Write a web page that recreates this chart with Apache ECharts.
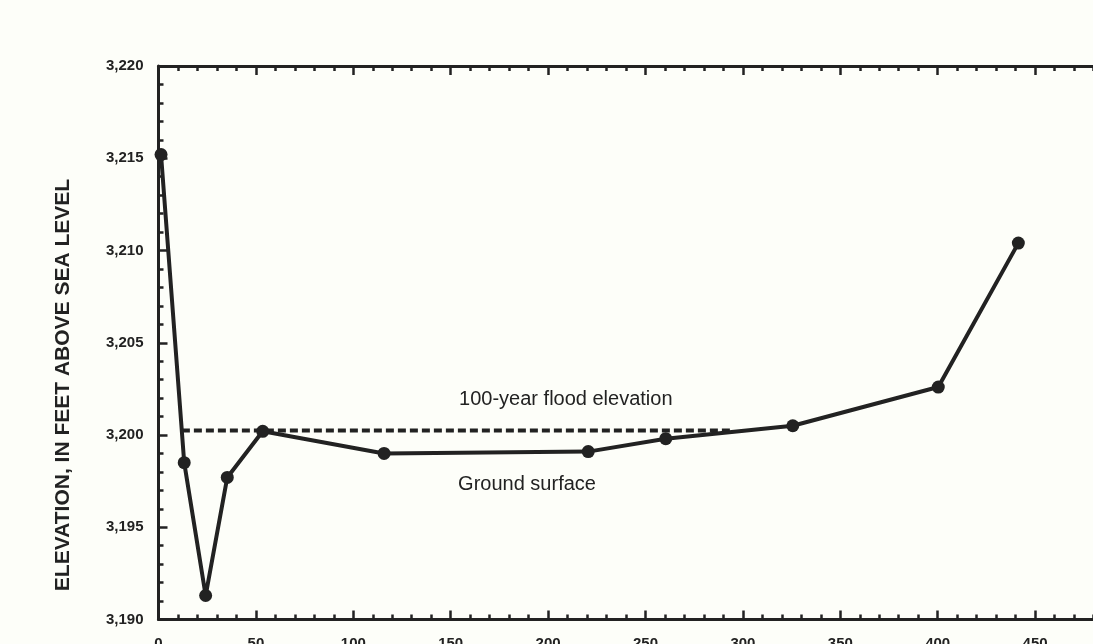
<!DOCTYPE html>
<html>
<head>
<meta charset="utf-8">
<script src="https://cdn.jsdelivr.net/npm/echarts@6/dist/echarts.min.js"></script>
<style>
html,body{margin:0;padding:0;background:#fdfef9;}
#c{width:1093px;height:644px;}
</style>
</head>
<body>
<div id="c"></div>
<script>
// Ground surface profile: distance (ft) and elevation (ft above sea level)
const groundDistance = [1.3, 13.2, 24.2, 35.3, 53.5, 115.8, 220.6, 260.4, 325.6, 400.3, 441.4];
const groundElevation = [3215.2, 3198.5, 3191.3, 3197.7, 3200.2, 3199.0, 3199.1, 3199.8, 3200.5, 3202.6, 3210.4];
// 100-year flood elevation line
const floodDistance = [12, 295];
const floodElevation = [3200.25, 3200.25];
// Axis ranges / ticks
const xRange = [0, 500, 50];
const yRange = [3190, 3220, 5];
// Annotations [text, x, y]
const notes = [
  ['100-year flood elevation', 154.3, 3201.9],
  ['Ground surface', 153.8, 3197.3]
];
const yTitle = 'ELEVATION, IN FEET ABOVE SEA LEVEL';

const FONT = '"Liberation Sans", Arial, Helvetica, sans-serif';
const INK = '#222';

const chart = echarts.init(document.getElementById('c'));
const fmt = v => String(v).replace(/\B(?=(\d{3})+(?!\d))/g, ',');

const axisCommon = {
  type: 'value',
  min: xRange[0], max: xRange[1], interval: xRange[2],
  axisLine: {show: true, onZero: false, lineStyle: {color: INK, width: 3}},
  axisTick: {show: true, inside: true, length: 9, lineStyle: {color: INK, width: 2.5}},
  minorTick: {show: true, splitNumber: 5, length: 5, lineStyle: {color: INK, width: 2.5}},
  splitLine: {show: false}
};

chart.setOption({
  backgroundColor: '#fdfef9',
  animation: false,
  grid: {left: 158.5, width: 974, top: 66, height: 553.5, containLabel: false, outerBoundsMode: 'none'},
  xAxis: [
    Object.assign({}, axisCommon, {
      position: 'bottom',
      axisLabel: {show: true, margin: 17, color: INK, fontFamily: FONT, fontWeight: 'bold', fontSize: 15, formatter: fmt}
    }),
    Object.assign({}, axisCommon, {
      position: 'top',
      axisLabel: {show: false}
    })
  ],
  yAxis: {
    type: 'value',
    min: yRange[0], max: yRange[1], interval: yRange[2],
    axisLine: {show: true, lineStyle: {color: INK, width: 3}},
    axisTick: {show: true, inside: true, length: 9, lineStyle: {color: INK, width: 2.5}},
    minorTick: {show: true, splitNumber: 5, length: 5, lineStyle: {color: INK, width: 2.5}},
    splitLine: {show: false},
    axisLabel: {margin: 15, color: INK, fontFamily: FONT, fontWeight: 'bold', fontSize: 15, formatter: fmt}
  },
  series: [
    {
      type: 'line',
      xAxisIndex: 0,
      data: floodDistance.map((d, i) => [d, floodElevation[i]]),
      symbol: 'none',
      lineStyle: {color: INK, width: 4, type: [8, 4]},
      z: 2
    },
    {
      type: 'line',
      xAxisIndex: 0,
      data: groundDistance.map((d, i) => [d, groundElevation[i]]),
      symbol: 'circle',
      symbolSize: 13,
      itemStyle: {color: INK},
      lineStyle: {color: INK, width: 4},
      z: 3
    }
  ]
});

const graphics = notes.map(n => {
  const p = chart.convertToPixel({xAxisIndex: 0, yAxisIndex: 0}, [n[1], n[2]]);
  return {
    type: 'text', x: p[0], y: p[1],
    style: {text: n[0], fill: INK, font: 'normal 20px ' + FONT, textAlign: 'left', textVerticalAlign: 'middle'}
  };
});
graphics.push({
  type: 'text', x: 63.5, y: 385, rotation: Math.PI / 2,
  style: {text: yTitle, fill: INK, font: 'bold 21px ' + FONT, textAlign: 'center', textVerticalAlign: 'middle'}
});
chart.setOption({graphic: graphics});
</script>
</body>
</html>
